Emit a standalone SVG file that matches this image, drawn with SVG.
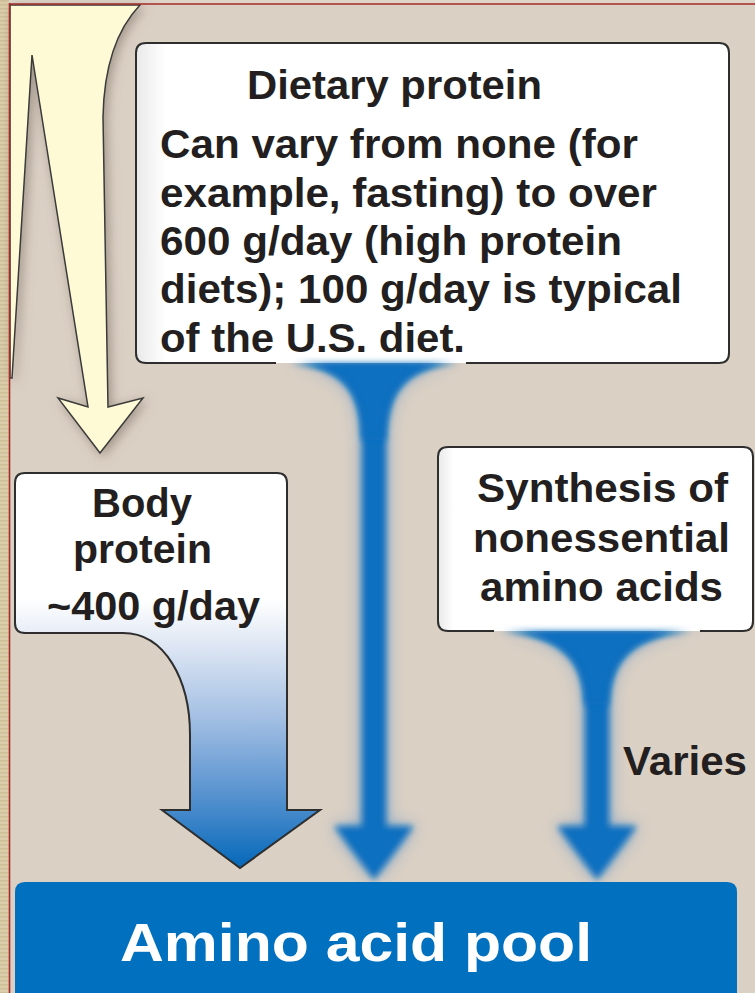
<svg xmlns="http://www.w3.org/2000/svg" width="755" height="993" viewBox="0 0 755 993">
  <defs>
    <style>
      .t { font-family: "Liberation Sans", Arial, Helvetica, sans-serif; font-weight: bold; font-size: 41px; fill: #231f20; }
      .box { fill: url(#boxfill); }
      .edge { fill: none; stroke: #2e2e2e; stroke-width: 2; stroke-linejoin: round; }
      .flow { fill: #0a6fc0; filter: url(#soft); }
    </style>
    <pattern id="tex" width="8" height="4" patternUnits="userSpaceOnUse">
      <rect width="8" height="4" fill="#dccdaa"/>
      <rect y="0" width="8" height="1.5" fill="#cfbf98"/>
    </pattern>
    <linearGradient id="boxfill" x1="0" y1="0" x2="1" y2="0">
      <stop offset="0" stop-color="#e9e9e9"/>
      <stop offset="0.05" stop-color="#ffffff"/>
      <stop offset="1" stop-color="#ffffff"/>
    </linearGradient>
    <linearGradient id="bodyfill" gradientUnits="userSpaceOnUse" x1="0" y1="473" x2="0" y2="868">
      <stop offset="0" stop-color="#ffffff"/>
      <stop offset="0.32" stop-color="#ffffff"/>
      <stop offset="0.42" stop-color="#e3eaf5"/>
      <stop offset="0.62" stop-color="#a3bfe3"/>
      <stop offset="0.82" stop-color="#5591cf"/>
      <stop offset="1" stop-color="#0468b9"/>
    </linearGradient>
    <filter id="soft" x="-50%" y="-10%" width="200%" height="120%">
      <feGaussianBlur stdDeviation="3"/>
    </filter>
    <filter id="wide" x="-50%" y="-20%" width="200%" height="140%">
      <feGaussianBlur stdDeviation="9"/>
    </filter>
    <filter id="shadow" x="-20%" y="-10%" width="140%" height="120%">
      <feDropShadow dx="3" dy="3" stdDeviation="6" flood-color="#6e6257" flood-opacity="0.55"/>
    </filter>
  </defs>

  <!-- background -->
  <rect x="0" y="0" width="755" height="993" fill="#dbd0c4"/>
  <rect x="0" y="0" width="9" height="993" fill="url(#tex)"/>
  <rect x="9" y="0" width="746" height="3" fill="#ddd5c9"/>

  <g id="connectors">
    <!-- yellow incoming arrow -->
    <path id="yellow-arrow" d="M10,5 L140,5 C118,28 104,65 103,117 L108,407 L143,398 L100,453 L58,398 L88,407 L32,55 L12,378 L10,378 Z" fill="#fffad6" stroke="#3a3a3a" stroke-width="1.5" stroke-linejoin="miter" filter="url(#shadow)"/>
    <!-- dietary flow -->
    <g id="flow-dietary">
      <path d="M285,363 C345,366 362,392 362,440 L362,826 L334,826 L374,880 L414,826 L386,826 L386,440 C386,392 404,366 462,363 Z" fill="#2a7ccc" opacity="0.55" filter="url(#wide)"/>
      <path class="flow" d="M285,363 C345,366 362,392 362,440 L362,826 L334,826 L374,880 L414,826 L386,826 L386,440 C386,392 404,366 462,363 Z"/>
    </g>
    <!-- synthesis flow -->
    <g id="flow-synthesis">
      <path d="M496,631 C562,634 585,660 585,705 L585,826 L557,826 L597,880 L637,826 L609,826 L609,705 C609,660 632,634 698,631 Z" fill="#2a7ccc" opacity="0.55" filter="url(#wide)"/>
      <path class="flow" d="M496,631 C562,634 585,660 585,705 L585,826 L557,826 L597,880 L637,826 L609,826 L609,705 C609,660 632,634 698,631 Z"/>
    </g>
  </g>

  <!-- red frame lines -->
  <line x1="9.5" y1="3" x2="9.5" y2="993" stroke="#a62b2b" stroke-width="1.6"/>
  <line x1="9" y1="4" x2="755" y2="4" stroke="#a62b2b" stroke-width="1.6"/>

  <g id="node-dietary">
    <rect class="box" x="136" y="43" width="593" height="320" rx="10"/>
    <path class="edge" d="M276,363 L146,363 Q136,363 136,353 L136,53 Q136,43 146,43 L719,43 Q729,43 729,53 L729,353 Q729,363 719,363 L466,363"/>
    <path class="flow" d="M292,363 C345,366 362,392 362,440 L386,440 C386,392 404,366 458,363 Z" opacity="0.9"/>
    <text class="t" x="247" y="99" textLength="295" lengthAdjust="spacingAndGlyphs">Dietary protein</text>
    <text class="t" x="160" y="158" textLength="478" lengthAdjust="spacingAndGlyphs">Can vary from none (for</text>
    <text class="t" x="160" y="206.5" textLength="497" lengthAdjust="spacingAndGlyphs">example, fasting) to over</text>
    <text class="t" x="160" y="255" textLength="462" lengthAdjust="spacingAndGlyphs">600 g/day (high protein</text>
    <text class="t" x="160" y="303" textLength="522" lengthAdjust="spacingAndGlyphs">diets); 100 g/day is typical</text>
    <text class="t" x="160" y="351.5" textLength="305" lengthAdjust="spacingAndGlyphs">of the U.S. diet.</text>
  </g>

  <g id="node-synthesis">
    <rect class="box" x="438" y="447" width="315" height="184" rx="10"/>
    <path class="edge" d="M494,631 L448,631 Q438,631 438,621 L438,457 Q438,447 448,447 L743,447 Q753,447 753,457 L753,621 Q753,631 743,631 L700,631"/>
    <path class="flow" d="M500,631 C562,634 585,660 585,705 L609,705 C609,660 632,634 694,631 Z" opacity="0.9"/>
    <text class="t" x="477" y="502" textLength="251" lengthAdjust="spacingAndGlyphs">Synthesis of</text>
    <text class="t" x="473" y="552" textLength="257" lengthAdjust="spacingAndGlyphs">nonessential</text>
    <text class="t" x="480" y="601" textLength="243" lengthAdjust="spacingAndGlyphs">amino acids</text>
  </g>

  <text id="label-varies" class="t" x="623" y="775" textLength="124" lengthAdjust="spacingAndGlyphs">Varies</text>

  <g id="node-body">
    <path d="M25,473 L277,473 Q287,473 287,483 L287,810 L320,810 L240,868 L162,810 L190,810 L190,735 C190,680 165,633 123,633 L25,633 Q15,633 15,623 L15,483 Q15,473 25,473 Z" fill="url(#bodyfill)" stroke="#2e2e2e" stroke-width="2" stroke-linejoin="miter"/>
    <text class="t" x="92" y="517" textLength="100" lengthAdjust="spacingAndGlyphs">Body</text>
    <text class="t" x="73" y="563" textLength="139" lengthAdjust="spacingAndGlyphs">protein</text>
    <text class="t" x="47" y="620" textLength="213" lengthAdjust="spacingAndGlyphs">~400 g/day</text>
  </g>

  <g id="node-pool">
    <path d="M15,993 L15,892 Q15,882 25,882 L727,882 Q737,882 737,892 L737,993 Z" fill="#0070bf"/>
    <text x="120" y="961" textLength="472" lengthAdjust="spacingAndGlyphs" style="font-family: 'Liberation Sans', Arial, Helvetica, sans-serif; font-weight: bold; font-size: 54px; fill: #ffffff;">Amino acid pool</text>
  </g>
</svg>
